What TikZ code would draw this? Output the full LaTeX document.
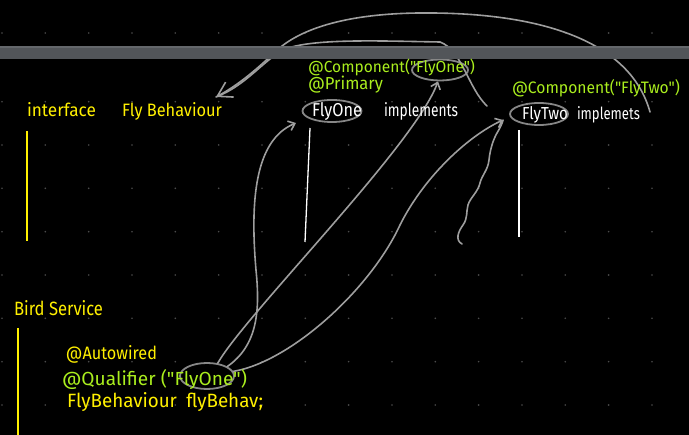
\documentclass[tikz,border=0pt]{standalone}
\usepackage{fontspec}
\setmainfont{Fira Sans}[Ligatures=TeXOff]
\usetikzlibrary{arrows.meta,shapes.geometric,calc}
\definecolor{ylw}{RGB}{255,240,0}
\definecolor{grn}{RGB}{170,238,30}
\definecolor{crv}{RGB}{158,158,158}
\definecolor{ringc}{RGB}{135,135,135}
\definecolor{dotc}{RGB}{75,75,75}
\definecolor{barc}{RGB}{82,85,89}
\definecolor{bartop}{RGB}{100,103,107}
\newcommand{\mkfit}[3]{\resizebox{#1}{#2}{#3}}
\begin{document}
\begin{tikzpicture}[x=1pt,y=-1pt,
  txt/.style={anchor=base west, inner sep=0pt, outer sep=0pt},
  ytxt/.style={txt, text=ylw},
  gtxt/.style={txt, text=grn},
  wtxt/.style={txt, text=white},
  ring/.style={draw=ringc, line width=1.8pt, ellipse, inner sep=0pt},
  crvline/.style={draw=crv, line width=1.6pt, line cap=round, line join=round},
  bigbarb/.style={-{Straight Barb[length=14pt,width=17pt]}},
  smallbarb/.style={-{Straight Barb[length=6pt,width=10pt]}},
  ylwline/.style={draw=ylw, line width=1.6pt},
  whtline/.style={draw=white, line width=1.3pt}
]
% background and frame
\fill[black] (0,0) rectangle (689,435);
\useasboundingbox (0,0) rectangle (689,435);
% dot grid
\foreach \i in {0,...,15}{
  \foreach \j in {33,101.7,145,188.3,231.7,275,318.3,361.7,405}{
    \fill[dotc] ({2+43.33*\i},\j) circle (0.9pt);
  }
}
% ellipses
\node[ring, minimum width=59pt, minimum height=22pt] (f1e) at (332,111) {};
\node[ring, minimum width=58pt, minimum height=22pt] (f2e) at (539,114) {};
\node[ring, minimum width=56pt, minimum height=21pt] (c1e) at (440,70) {};
\node[ring, minimum width=54pt, minimum height=26pt] (q1e) at (207,376) {};
% free ends
\coordinate (fbtip) at (216,97);
\coordinate (a1s) at (650,112);
\coordinate (a2s) at (487,106);
\coordinate (sq) at (462,244);
% curves from the qualifier
\draw[crvline, smallbarb] (q1e.25) .. controls (258,345) and (260,310) .. (256,270)
   .. controls (250,200) and (255,140) .. ($(f1e.center)+(-36,12)$);
\draw[crvline, smallbarb] (q1e.50) .. controls (245,315) and (415,145) .. (c1e.260);
\draw[crvline, smallbarb] (q1e.10) .. controls (290,362) and (370,290) .. (400,225)
   .. controls (425,175) and (470,135) .. ($(f2e.west)+(-6,6)$);
% squiggle
\draw[crvline] (sq) .. controls (455,240) and (458,232) .. (463,225)
   .. controls (468,218) and (466,212) .. (468,205)
   .. controls (470,198) and (478,192) .. (480,183)
   .. controls (482,175) and (488,170) .. (489,160)
   .. controls (490,150) and (493,140) .. (497,133)
   .. controls (500,128) and (502,124) .. ($(f2e.west)+(-6,6)$);
% big arcs to the interface
\draw[crvline, bigbarb] (a1s) .. controls (630,40) and (540,14) .. (433,13)
   .. controls (350,12) and (300,28) .. (275,52)
   .. controls (258,68) and (240,84) .. (fbtip);
\draw[crvline] (a2s) .. controls (468,88) and (462,50) .. (440,42)
   .. controls (380,41) and (310,38) .. (283,50)
   .. controls (262,62) and (245,86) .. (fbtip);
% toolbar band
\fill[barc] (0,46) rectangle (689,59);
\fill[bartop] (0,46) rectangle (689,48);
% structure lines
\draw[ylwline] (27,131) -- (27,241);
\draw[ylwline] (18,328) -- (18,435);
\draw[whtline] (310,128) -- (305,242);
\draw[whtline] (519,130) -- (519,237);
% texts
\node[ytxt] (ifc) at (27,117) {\mkfit{69pt}{14pt}{interface}};
\node[ytxt] (fb) at (122,117) {\mkfit{100pt}{14pt}{Fly Behaviour}};
\node[ytxt] (bs) at (14,316) {\mkfit{89pt}{15pt}{Bird Service}};
\node[ytxt] (aw) at (66,360) {\mkfit{91pt}{14pt}{@Autowired}};
\node[gtxt] (ql) at (62,386) {\mkfit{185pt}{16pt}{@Qualifier ("FlyOne")}};
\node[ytxt] (fbv) at (67,408) {\mkfit{196pt}{15pt}{FlyBehaviour\enspace flyBehav;}};
\node[gtxt] (c1) at (308,72.5) {\mkfit{167pt}{13.5pt}{@Component("FlyOne")}};
\node[gtxt] (pr) at (308,89.5) {\mkfit{75pt}{13.5pt}{@Primary}};
\node[wtxt] (f1) at (312,116.5) {\mkfit{50pt}{14pt}{FlyOne}};
\node[wtxt] (im1) at (384,116.5) {\mkfit{74pt}{14pt}{implements}};
\node[gtxt] (c2) at (512,93.5) {\mkfit{168pt}{14pt}{@Component("FlyTwo")}};
\node[wtxt] (f2) at (522,119.5) {\mkfit{46pt}{13pt}{FlyTwo}};
\node[wtxt] (im2) at (577,119.5) {\mkfit{63pt}{13pt}{implemets}};
\end{tikzpicture}
\end{document}
